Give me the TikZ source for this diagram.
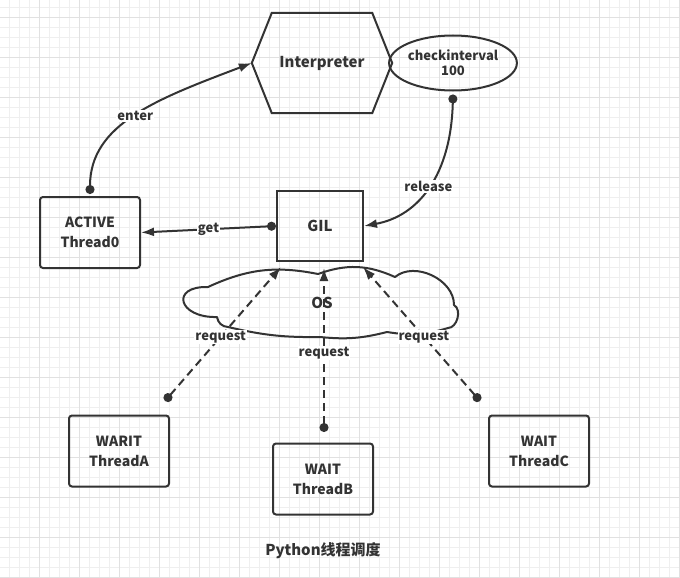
\documentclass[tikz,border=0pt]{standalone}
\usepackage{fontspec}
\setmainfont{Noto Sans CJK SC}
\usepackage{tikz}
\usetikzlibrary{arrows.meta}
\usetikzlibrary{shapes.geometric}
\definecolor{mdark}{HTML}{333333}
\definecolor{mgridminor}{HTML}{EFEFEF}
\definecolor{mgridmajor}{HTML}{E1E1E1}
\tikzset{threadbox/.style = {draw=mdark, line width=2pt, rounded corners=3pt,
                             minimum width=100pt, minimum height=71pt, align=center,
                             text=mdark, font=\fontsize{14}{20}\selectfont\bfseries}}
\tikzset{gilbox/.style = {draw=mdark, line width=2pt, minimum width=86pt,
                          minimum height=70pt, text=mdark,
                          font=\fontsize{15}{20}\selectfont\bfseries}}
\tikzset{link/.style = {draw=mdark, line width=2pt,
                        {Circle[length=9pt]}-{Latex[length=13pt,width=9pt]}}}
\tikzset{reqlink/.style = {link, dash pattern=on 8pt off 5pt}}
\tikzset{lbl/.style = {fill=white, inner sep=1pt, text=mdark,
                       font=\fontsize{13}{15}\selectfont\bfseries}}

\begin{document}
\begin{tikzpicture}[x=1pt, y=-1pt]
      \useasboundingbox (0, 0) rectangle (680, 578);
      \fill [white] (0, 0) rectangle (680, 578);

      \foreach \gx in {9.5, 19.5, ..., 680} \draw [mgridminor, line width=1pt] (\gx, 0) -- (\gx, 578);
      \foreach \gy in {7.5, 17.5, ..., 578} \draw [mgridminor, line width=1pt] (0, \gy) -- (680, \gy);
      \foreach \gx in {39.5, 79.5, ..., 680} \draw [mgridmajor, line width=1pt] (\gx, 0) -- (\gx, 578);
      \foreach \gy in {17.5, 57.5, ..., 578} \draw [mgridmajor, line width=1pt] (0, \gy) -- (680, \gy);

      \node (interp) [minimum width=140pt, minimum height=100pt, text=mdark,
                      font=\fontsize{15}{18}\selectfont\bfseries] at (322, 63) {Interpreter};
      \draw [mdark, line width=2pt] (interp.west) -- ([xshift=20pt]interp.north west)
            -- ([xshift=-20pt]interp.north east) -- (interp.east)
            -- ([xshift=-20pt]interp.south east) -- ([xshift=20pt]interp.south west) -- cycle;

      \node (chk) [ellipse, draw=mdark, line width=2pt, minimum width=120pt, minimum height=55pt,
                   inner sep=0pt, align=center, text=mdark,
                   font=\fontsize{13}{15}\selectfont\bfseries] at (453, 63) {checkinterval\\100};

      \node (act) [threadbox] at (90, 232.5) {ACTIVE\\Thread0};
      \node (gil) [gilbox] at (320, 226) {GIL};

      \draw [mdark, line width=2pt, line join=round]
            (208, 287) to [bend left=18] (318, 274) to [bend left=22] (395, 277)
            to [bend left=65] (454, 305) to [bend left=75] (448, 328)
            to [bend left=13] (387, 332) to [bend left=10] (320, 337)
            to [bend left=7] (228, 327) to [bend left=40] (217, 317)
            .. controls (178, 318) and (170, 286) .. (208, 287);
      \node (os) [text=mdark, font=\fontsize{15}{18}\selectfont\bfseries] at (322, 303) {OS};

      \node (tha) [threadbox] at (119, 451) {WARIT\\ThreadA};
      \node (thb) [threadbox] at (323, 479) {WAIT\\ThreadB};
      \node (thc) [threadbox] at (539, 451) {WAIT\\ThreadC};

      \coordinate (srca) at (165, 401);
      \coordinate (srcb) at (324, 432);
      \coordinate (srcc) at (480, 401);
      \coordinate (reqa) at (281, 267);
      \coordinate (reqb) at (324, 268);
      \coordinate (reqc) at (363, 267);

      \draw [link] ([yshift=2pt]act.north) .. controls +(0, -70) and +(-95, 36) ..
            node [lbl, pos=0.5] (lblenter) {enter} (interp.west);
      \draw [link] ([yshift=-3pt]chk.south) .. controls +(-2, 80) and +(55, -10) ..
            node [lbl, pos=0.5] (lblrelease) {release} (gil.east);
      \draw [link] (gil.west) -- node [lbl, pos=0.5] (lblget) {get} (act.east);

      \draw [reqlink] (srca) -- node [lbl, pos=0.48] (lblreqa) {request} (reqa);
      \draw [reqlink] (srcb) -- node [lbl, pos=0.48] (lblreqb) {request} (reqb);
      \draw [reqlink] (srcc) -- node [lbl, pos=0.48] (lblreqc) {request} (reqc);

      \node (title) [text=mdark, font=\fontsize{15}{18}\selectfont\bfseries] at (323, 551) {Python线程调度};
    \end{tikzpicture}
\end{document}
